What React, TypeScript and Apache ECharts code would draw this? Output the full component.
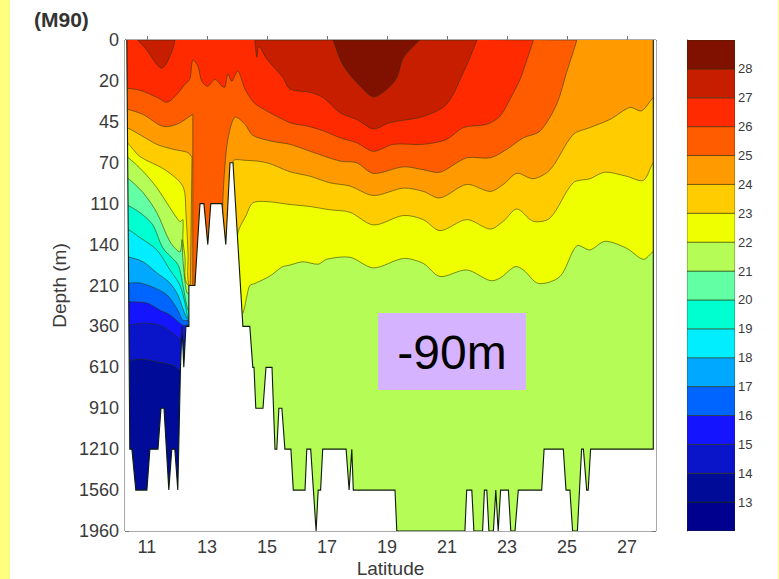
import React, { useEffect, useRef } from "react";
import * as echarts from "echarts";

type P = [number, number];

// Depth axis is evenly spaced by row: the row index selects the label.
const depthLabels = ["0", "20", "45", "70", "110", "140", "210", "360", "610", "910", "1210", "1560", "1960"];
const latTicks = [11, 13, 15, 17, 19, 21, 23, 25, 27];
const LAT_MIN = 10.27, LAT_MAX = 27.97;

// Isotherms: [latitude, depth row]
const iso28: P[] = [[17.21, 0], [17.55, 0.63], [18.1, 1.12], [18.55, 1.39], [19.0, 1.2], [19.33, 0.92], [19.55, 0.43], [20.08, 0]];
const iso27a: P[] = [[10.7, 0], [11.0, 0.25], [11.33, 0.6], [11.5, 0.69], [11.67, 0.55], [11.87, 0.2], [11.93, 0]];
const iso27b: P[] = [[14.6, 0], [14.67, 0.42], [14.73, 0.15], [15.0, 0.47], [15.53, 0.91], [15.77, 1.2], [16.44, 1.28], [16.88, 1.41], [17.44, 1.78], [17.99, 1.94], [18.55, 2.17], [19.1, 2.02], [20.21, 1.87], [20.99, 1.57], [21.55, 0.79], [22.0, 0]];
const iso26: P[] = [[10.33, 1.18], [10.77, 1.23], [11.33, 1.4], [11.67, 1.52], [12.0, 1.33], [12.27, 1.08], [12.43, 0.96], [12.53, 0.49], [12.7, 0.64], [12.83, 1.01], [13.03, 1.13], [13.27, 0.96], [13.5, 1.13], [13.6, 1.15], [13.7, 0.83], [13.83, 1.01], [14.03, 0.76], [14.27, 1.2], [14.53, 1.5], [14.77, 1.64], [15.77, 2.02], [16.33, 2.1], [16.88, 2.22], [17.44, 2.39], [17.99, 2.51], [18.55, 2.72], [19.21, 2.55], [20.21, 2.55], [20.99, 2.43], [21.55, 2.14], [22.33, 2.06], [22.77, 1.86], [23.1, 1.45], [23.44, 0.96], [23.6, 0.63], [23.88, 0]];
const iso25: P[] = [[10.33, 1.69], [10.87, 1.82], [11.53, 2.11], [12.0, 2.06], [12.5, 1.83], [12.53, 1.82], [12.53, 1.9], [12.53, 5.9], [12.53, 6.04], [12.6, 6.04], [13.4, 6], [13.5, 6], [13.5, 5.9], [13.53, 3.98], [13.6, 3.09], [13.7, 2.43], [13.93, 1.89], [14.27, 2.06], [14.53, 2.33], [15.2, 2.48], [15.77, 2.55], [16.44, 2.72], [17.44, 2.96], [17.99, 3.0], [18.55, 3.26], [19.55, 3.1], [20.21, 3.17], [20.77, 3.23], [21.66, 2.88], [22.44, 2.88], [23.0, 2.67], [23.55, 2.39], [24.1, 2.23], [24.66, 1.57], [24.99, 0.79], [25.33, 0]];
const iso24: P[] = [[10.33, 2.14], [10.87, 2.36], [11.33, 2.55], [11.87, 2.67], [12.37, 2.75], [12.47, 2.84], [12.5, 2.85], [12.5, 2.95], [12.45, 5.9], [12.45, 6.04], [12.6, 6.04], [13.0, 6], [13.8, 6], [13.87, 2.97], [14.27, 2.94], [15.0, 3.0], [15.77, 3.22], [16.44, 3.33], [17.1, 3.49], [17.77, 3.57], [18.55, 3.8], [19.55, 3.62], [20.21, 3.7], [20.77, 3.86], [21.66, 3.53], [22.44, 3.7], [22.88, 3.53], [23.33, 3.26], [23.88, 3.39], [24.44, 3.17], [25.21, 2.31], [25.77, 2.14], [26.44, 1.94], [27.1, 1.65], [27.49, 1.73], [27.88, 1.41]];
const iso23: P[] = [[10.33, 2.5], [10.77, 2.85], [11.6, 3.17], [12.2, 3.58], [12.3, 4.22], [12.37, 5.2], [12.43, 6.04], [13.0, 6], [13.9, 6], [14.03, 4.72], [14.3, 4.3], [14.53, 3.98], [15.0, 3.95], [15.77, 4.02], [16.44, 4.07], [17.1, 4.15], [17.77, 4.21], [18.55, 4.52], [19.55, 4.29], [20.21, 4.39], [20.77, 4.66], [21.66, 4.39], [22.44, 4.62], [22.88, 4.43], [23.33, 4.13], [23.88, 4.43], [24.44, 4.35], [25.21, 3.49], [25.77, 3.39], [26.27, 3.23], [26.99, 3.33], [27.55, 3.43], [27.88, 3.0]];
const iso22: P[] = [[10.33, 2.85], [10.87, 3.21], [11.33, 3.61], [11.77, 4.1], [12.1, 4.44], [12.2, 4.39], [12.2, 4.88], [12.27, 5.3], [12.37, 5.99], [14.1, 6.68], [14.2, 6.68], [14.35, 6.2], [14.43, 6.0], [14.6, 5.95], [15.1, 5.77], [15.5, 5.55], [15.77, 5.5], [16.21, 5.42], [16.71, 5.48], [16.99, 5.36], [17.77, 5.31], [18.55, 5.57], [19.55, 5.34], [20.21, 5.46], [20.77, 5.78], [21.66, 5.62], [22.44, 5.88], [22.77, 5.82], [23.27, 5.54], [23.55, 5.62], [24.05, 5.95], [24.77, 5.78], [25.33, 5.03], [25.77, 5.13], [26.27, 4.92], [26.99, 5.09], [27.55, 5.36], [27.88, 5.17]];
const iso21: P[] = [[10.33, 3.36], [10.87, 3.73], [11.33, 4.22], [11.77, 4.93], [12.1, 5.18], [12.17, 4.88], [12.2, 5.37], [12.33, 6.18]];
const iso20: P[] = [[10.33, 4.03], [10.77, 4.22], [11.2, 4.52], [11.53, 5.08], [12.0, 5.45], [12.1, 5.62], [12.2, 5.99], [12.37, 6.6]];
const iso19: P[] = [[10.33, 4.61], [10.77, 4.83], [11.33, 5.13], [11.77, 5.62], [12.1, 5.99], [12.27, 6.43], [12.37, 6.8]];
const iso18: P[] = [[10.37, 5.3], [10.87, 5.42], [11.33, 5.69], [11.77, 5.94], [12.03, 6.23], [12.33, 6.8]];
const iso17: P[] = [[10.37, 5.94], [10.77, 5.94], [11.2, 6.04], [11.67, 6.23], [12.03, 6.6], [12.2, 6.85]];
const iso16: P[] = [[10.4, 6.4], [11.0, 6.43], [11.43, 6.6], [11.77, 6.72], [12.2, 6.97]];
const iso15: P[] = [[10.4, 6.97], [10.87, 6.92], [11.43, 6.97], [11.87, 7.17], [12.17, 7.34]];
const iso14: P[] = [[10.4, 7.83], [10.87, 7.8], [11.43, 7.88], [11.87, 7.95], [12.1, 8.07]];

// Sea floor and the sides of the section
const seaFloor: P[] = [[10.33, 0], [10.43, 10], [10.5, 10], [10.63, 11], [11.0, 11], [11.1, 10], [11.37, 10], [11.47, 9], [11.57, 9], [11.73, 11], [11.83, 10], [11.93, 10], [12.03, 11], [12.12, 8], [12.17, 7], [12.23, 8], [12.3, 7], [12.4, 7], [12.4, 6], [12.6, 6], [12.77, 4], [12.9, 4], [13.03, 5], [13.13, 4], [13.5, 4], [13.63, 5], [13.77, 3], [13.87, 3], [14.2, 7], [14.43, 7], [14.53, 8], [14.57, 8], [14.63, 9], [14.87, 9], [14.97, 8], [15.17, 8], [15.27, 10], [15.33, 10], [15.4, 9], [15.5, 9], [15.6, 10], [15.8, 10], [15.88, 11], [16.27, 11], [16.33, 10], [16.46, 10], [16.55, 11], [16.64, 12], [16.71, 11], [16.79, 11], [16.86, 10], [17.64, 10], [17.74, 11], [17.83, 10], [17.88, 11], [19.27, 11], [19.33, 12], [21.6, 12], [21.66, 11], [21.83, 11], [21.9, 12], [22.19, 12], [22.25, 11], [22.33, 11], [22.4, 12], [22.55, 12], [22.63, 11], [22.71, 12], [22.79, 11], [23.05, 11], [23.13, 12], [23.27, 12], [23.38, 11], [24.16, 11], [24.24, 10], [24.88, 10], [24.97, 11], [25.1, 11], [25.19, 12], [25.35, 12], [25.49, 10], [25.55, 10], [25.66, 11], [25.71, 11], [25.79, 10], [27.88, 10], [27.88, 0]];

// Colour bar: one colour per degree, from 12 upward
const barMin = 12, barMax = 29;
const barColors = ["#00008f", "#000c98", "#0a14c8", "#1414ff", "#0064ff", "#00a8ff", "#00eeff", "#00ffd0", "#62ffa4", "#b5fc56", "#f0ff00", "#ffcc00", "#ff9a00", "#ff5c00", "#ff2a00", "#c81e00", "#801000"];
const colorOf = (t: number) => barColors[t - barMin];

const ISO_STROKE = "rgba(40,50,0,0.55)";
const ISO_SMOOTH = 0.3;

// The extra vertices next to the corners keep the smoothing from bulging along the long closing edges.
const closeToTop = (pts: P[]): P[] => {
  const first = pts[0], last = pts[pts.length - 1];
  const tail: P[] = last[0] > 27 ? [[28, last[1]], [28, 0]] : [[last[0] - 0.05, 0]];
  return [...pts, ...tail, [10.2, 0], [10.2, first[1]]];
};
const closeAroundBasin = (pts: P[]): P[] => {
  const first = pts[0], last = pts[pts.length - 1];
  return [...pts, [12.45, last[1]], [12.45, last[1] + 0.1], [12.45, 11.9], [12.45, 12], [12.6, 12], [28, 12], [28, 0], [10.2, 0], [10.2, first[1]]];
};
const closeDome = (pts: P[]): P[] => {
  const first = pts[0], last = pts[pts.length - 1];
  return [...pts, [last[0] - 0.05, 0], [first[0] + 0.05, 0]];
};

type Shape = { pts: P[]; fill: string; stroke: string; w: number; open?: boolean; smooth?: number };
const iso = (t: number, pts: P[]): Shape => ({ pts, fill: colorOf(t), stroke: ISO_STROKE, w: 1, smooth: ISO_SMOOTH });

const shapes: Shape[] = [
  { pts: [[10.2, 0], [28, 0], [28, 12], [10.2, 12]], fill: colorOf(13), stroke: ISO_STROKE, w: 1 },
  iso(14, closeAroundBasin(iso14)),
  iso(15, closeAroundBasin(iso15)),
  iso(16, closeAroundBasin(iso16)),
  iso(17, closeAroundBasin(iso17)),
  iso(18, closeAroundBasin(iso18)),
  iso(19, closeAroundBasin(iso19)),
  iso(20, closeAroundBasin(iso20)),
  iso(21, closeAroundBasin(iso21)),
  iso(22, closeToTop(iso22)),
  iso(23, closeToTop(iso23)),
  iso(24, closeToTop(iso24)),
  iso(25, closeToTop(iso25)),
  iso(26, closeToTop(iso26)),
  iso(27, closeDome(iso27a)),
  iso(27, closeDome(iso27b)),
  iso(28, closeDome(iso28)),
  { pts: [...seaFloor, [28, 0], [28, 12], [10.2, 12], [10.2, 0]], fill: "#ffffff", stroke: "none", w: 0 },
  { pts: seaFloor, fill: "none", stroke: "#0c1c08", w: 1.1, open: true },
];

const barCells = barColors.map((_, i) => barMin + i);

const FONT = "'Liberation Sans', Arial, Helvetica, sans-serif";
const TEXT = "#3a3a3a";

export default function App() {
  const ref = useRef<HTMLDivElement>(null);
  useEffect(() => {
    document.body.style.margin = "0";
    document.body.style.background = "#fff";
    const chart = echarts.init(ref.current!, undefined, { renderer: "svg" });
    chart.setOption({
      animation: false,
      backgroundColor: "#ffffff",
      textStyle: { fontFamily: FONT },
      title: {
        text: "(M90)", left: 29, top: 4,
        textStyle: { fontFamily: FONT, fontSize: 21, fontWeight: "bold", color: "#333" },
      },
      grid: [
        { left: 125, top: 40, width: 531, height: 491, show: true, borderColor: "#555", borderWidth: 1, backgroundColor: "#fff", outerBoundsMode: "none" },
        { left: 687, top: 40, width: 48, height: 491, outerBoundsMode: "none" },
      ],
      xAxis: [
        {
          type: "value", gridIndex: 0, min: LAT_MIN, max: LAT_MAX,
          name: "Latitude", nameLocation: "middle", nameGap: 28, nameMoveOverlap: false,
          nameTextStyle: { fontFamily: FONT, fontSize: 19, color: TEXT },
          splitLine: { show: false },
          axisLine: { lineStyle: { color: "#555" } },
          axisTick: { inside: true, length: 4, customValues: latTicks, lineStyle: { color: "#777" } },
          axisLabel: { customValues: latTicks, fontFamily: FONT, fontSize: 18, color: TEXT, margin: 7, formatter: (v: number) => String(v) },
        },
        { type: "value", gridIndex: 1, min: 0, max: 1, show: false },
      ],
      yAxis: [
        {
          type: "value", gridIndex: 0, inverse: true, min: 0, max: 12, interval: 1,
          name: "Depth (m)", nameLocation: "middle", nameGap: 56, nameRotate: 90, nameMoveOverlap: false,
          nameTextStyle: { fontFamily: FONT, fontSize: 19, color: TEXT },
          splitLine: { show: false },
          axisLine: { lineStyle: { color: "#555" } },
          axisTick: { inside: true, length: 4, lineStyle: { color: "#777" } },
          axisLabel: { fontFamily: FONT, fontSize: 18, color: TEXT, margin: 6, formatter: (v: number) => depthLabels[v] ?? "" },
        },
        {
          type: "value", gridIndex: 1, position: "right", min: barMin, max: barMax, interval: 1,
          splitLine: { show: false },
          axisLine: { lineStyle: { color: "#555" } },
          axisTick: { show: false },
          axisLabel: { fontFamily: FONT, fontSize: 13, color: TEXT, margin: 3, formatter: (v: number) => (v === barMin || v === barMax ? "" : String(v)) },
        },
        {
          type: "value", gridIndex: 0, position: "right", inverse: true, min: 0, max: 12, interval: 1,
          splitLine: { show: false },
          axisLine: { show: false },
          axisTick: { inside: true, length: 4, lineStyle: { color: "#777" } },
          axisLabel: { show: false },
        },
      ],
      series: [
        {
          type: "custom", xAxisIndex: 0, yAxisIndex: 0, clip: true, silent: true,
          data: shapes.map((_, i) => [i]),
          encode: { x: [], y: [] },
          renderItem: (params: any, api: any) => {
            const s = shapes[params.dataIndex];
            const points = s.pts.map((p) => api.coord(p));
            return {
              type: s.open ? "polyline" : "polygon",
              shape: { points, smooth: s.smooth ?? 0 },
              style: { fill: s.fill === "none" ? "transparent" : s.fill, stroke: s.stroke === "none" ? "transparent" : s.stroke, lineWidth: s.w },
            };
          },
        },
        {
          type: "custom", xAxisIndex: 1, yAxisIndex: 1, clip: true, silent: true,
          data: barCells.map((t) => [t]),
          encode: { x: [], y: 0 },
          renderItem: (params: any, api: any) => {
            const t = api.value(0) as number;
            const points = ([[0, t], [1, t], [1, t + 1], [0, t + 1]] as P[]).map((p) => api.coord(p));
            return {
              type: "polygon",
              shape: { points },
              style: { fill: colorOf(t), stroke: ISO_STROKE, lineWidth: 1 },
            };
          },
        },
      ],
      graphic: [
        { type: "rect", z: 50, shape: { x: 0, y: 0, width: 10, height: 579 }, style: { fill: "#ffff7f" } },
        { type: "rect", z: 50, shape: { x: 778, y: 0, width: 1, height: 579 }, style: { fill: "#ffff7f" } },
        { type: "rect", z: 50, shape: { x: 378, y: 313, width: 148, height: 77 }, style: { fill: "#d5b3fe" } },
        {
          type: "text", z: 51, x: 452, y: 352,
          style: { text: "-90m", fontFamily: FONT, fontSize: 48, fill: "#000", align: "center", verticalAlign: "middle" },
        },
      ],
    });
    return () => chart.dispose();
  }, []);
  return <div ref={ref} style={{ width: 779, height: 579 }} />;
}
